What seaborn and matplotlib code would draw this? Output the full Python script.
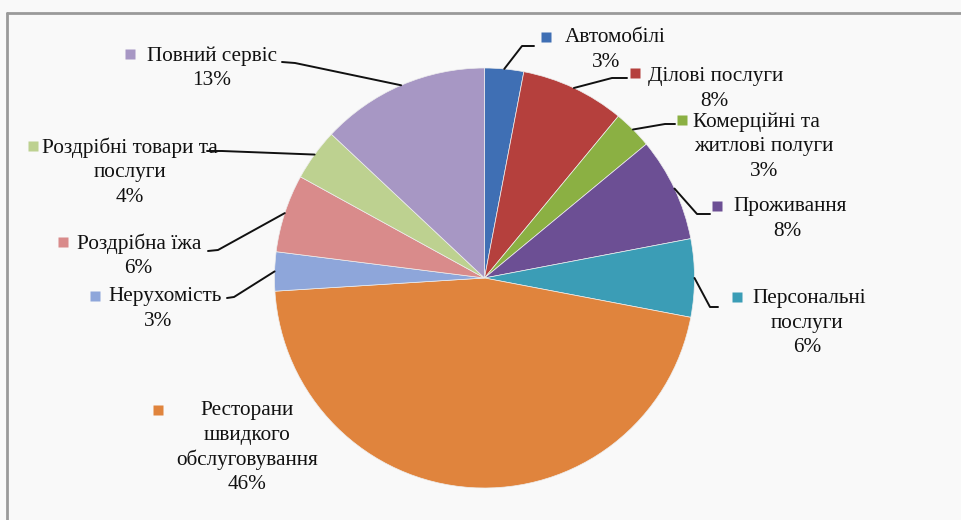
import numpy as np
import matplotlib
matplotlib.use('Agg')
import matplotlib.pyplot as plt
import seaborn as sns

sns.set_theme(style='white')
plt.rcParams['font.family'] = ['Liberation Serif', 'DejaVu Serif']

# Дані діаграми
categories = ['Автомобілі', 'Ділові послуги', 'Комерційні та\nжитлові полуги', 'Проживання',
              'Персональні\nпослуги', 'Ресторани\nшвидкого\nобслуговування', 'Нерухомість',
              'Роздрібна їжа', 'Роздрібні товари та\nпослуги', 'Повний сервіс']
shares = [3, 8, 3, 8, 6, 46, 3, 6, 4, 13]
colors = ['#3F6FB4', '#B5403D', '#8BB043', '#6C4F94', '#3B9DB6',
          '#E0843D', '#8EA6DA', '#D98B8B', '#BDD190', '#A797C4']

# Розміщення підписів (пікселі): маркер, лівий край першого рядка, y рядків, центр інших рядків
marker_xy = [(546, 37), (635, 73), (682, 120), (717, 206), (737, 297),
             (158, 410), (95, 296), (63, 242), (33, 146), (130, 54)]
first_left = [565, 648, 693, 733, 752, 200, 108, 77, 42, 147]
line_y0 = [38, 77, 122, 207, 299, 411, 297, 244, 148, 56]
line_dy = 24.5
rest_cx = [606, 714, 764, 787, 807, 247, 158, 138, 130, 212]
# Лінії-виноски: злам і кінець (None - без лінії)
leaders = [((522, 46), (534, 46)), ((612, 78), (627, 78)), ((665, 124), (675, 124)),
           ((697, 214), (710, 214)), ((710, 307), (718, 307)), None,
           ((234, 297), (227, 298)), ((218, 250), (208, 251)), ((222, 151), (207, 151)),
           ((295, 63), (282, 62))]

W, H = 962, 520
CX, CY, R = 484.5, 278, 210.0


def px(x, y):
    return (x - CX) / R, (CY - y) / R


fig = plt.figure(figsize=(W / 100, H / 100), dpi=100)
fig.patch.set_facecolor('#F9F9F9')
ax = fig.add_axes([0, 0, 1, 1])
ax.set_facecolor('#F9F9F9')

wedges, _ = ax.pie(shares, colors=colors, startangle=90, counterclock=False, radius=1.0,
                   wedgeprops=dict(edgecolor='#EEEEEE', linewidth=0.5))

ax.set_xlim(-CX / R, (W - CX) / R)
ax.set_ylim(-(H - CY) / R, CY / R)
ax.set_aspect('equal')
ax.axis('off')

# рамка області діаграми
ax.plot([px(7, 0)[0], px(7, H + 5)[0]], [px(7, 13)[1], px(7, H + 5)[1]], color='#9A9A9A', lw=2)
ax.plot([px(7, 13)[0], px(W + 5, 13)[0]], [px(7, 13)[1], px(W + 5, 13)[1]], color='#9A9A9A', lw=2)

fs = 15.3
for i, (w, lab, val) in enumerate(zip(wedges, categories, shares)):
    lines = lab.split('\n') + [f'{val}%']
    mx, my = px(*marker_xy[i])
    ax.plot(mx, my, marker='s', ms=6.5, color=colors[i], mec='none')
    x0, y0 = px(first_left[i], line_y0[i])
    ax.text(x0, y0, lines[0], fontsize=fs, ha='left', va='center', color='#111111')
    for k, ln in enumerate(lines[1:], start=1):
        xx, yy = px(rest_cx[i], line_y0[i] + k * line_dy)
        ax.text(xx, yy, ln, fontsize=fs, ha='center', va='center', color='#111111')
    if leaders[i] is not None:
        ang = np.deg2rad((w.theta1 + w.theta2) / 2)
        sx, sy = np.cos(ang), np.sin(ang)
        ex, ey = px(*leaders[i][0])
        fx, fy = px(*leaders[i][1])
        ax.plot([sx, ex, fx], [sy, ey, fy], color='#111111', lw=1.4)

fig.savefig('out.png', dpi=100, facecolor=fig.get_facecolor())
